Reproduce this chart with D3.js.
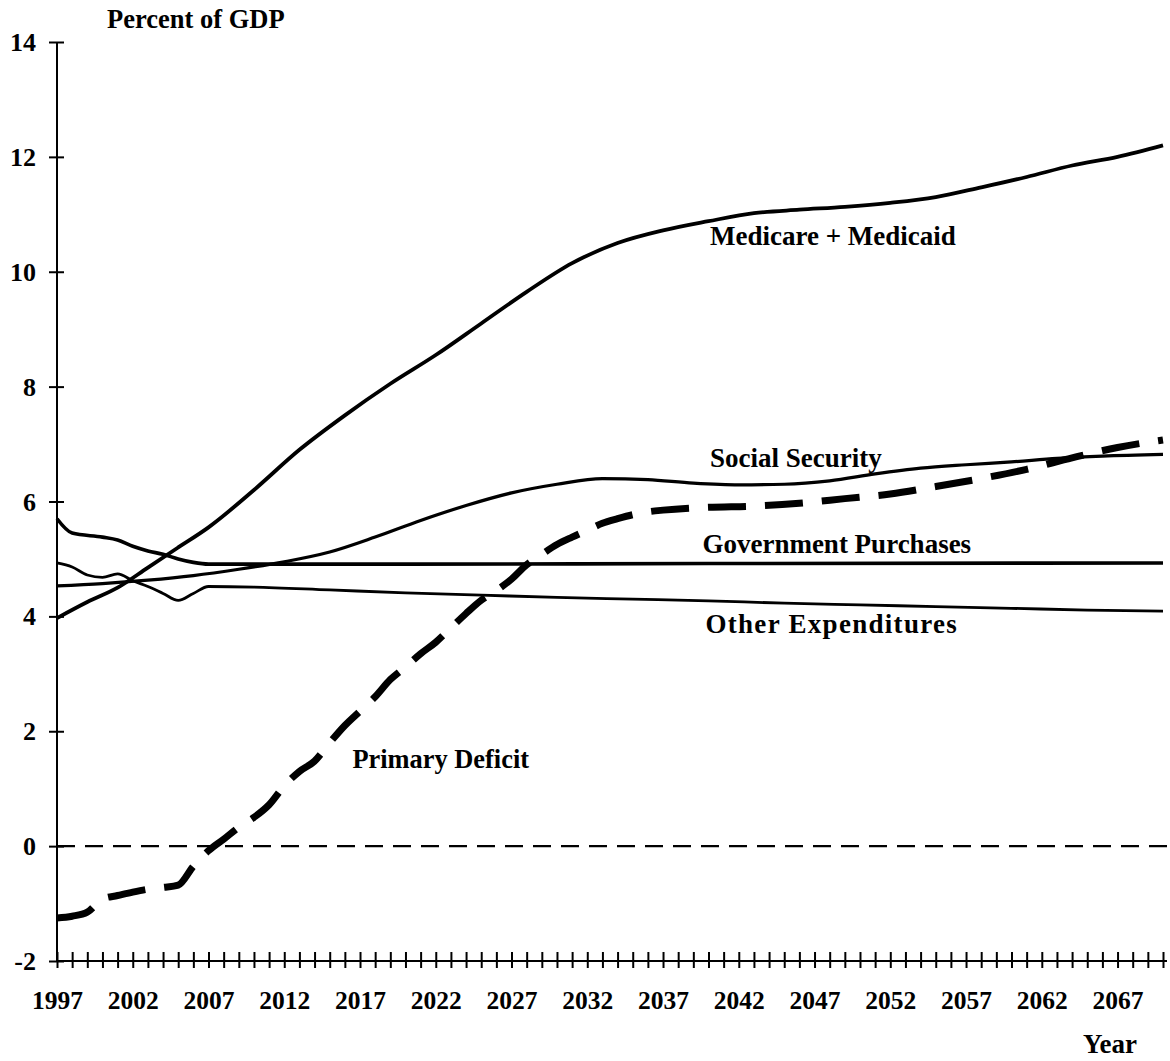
<!DOCTYPE html>
<html>
<head>
<meta charset="utf-8">
<script src="https://cdn.jsdelivr.net/npm/d3@7"></script>
<style>
  html, body { margin: 0; padding: 0; background: #fff; }
  text { font-family: "Liberation Serif", "Times New Roman", serif; font-weight: bold; fill: #000; }
</style>
</head>
<body>
<div id="chart"></div>
<script>
// Outlays and primary deficit, percent of GDP, 1997–2070

const MEDICARE = [
  [1997, 3.97], [1999, 4.25], [2001, 4.5], [2003, 4.85], [2005, 5.2], [2007, 5.55],
  [2010, 6.2], [2013, 6.9], [2016, 7.5], [2019, 8.05], [2022, 8.55], [2025, 9.1],
  [2028, 9.65], [2031, 10.15], [2034, 10.5], [2037, 10.72], [2040, 10.88], [2043, 11.02],
  [2046, 11.08], [2049, 11.13], [2052, 11.2], [2055, 11.3], [2058, 11.47], [2061, 11.65],
  [2064, 11.85], [2067, 12.0], [2070, 12.2]
];
const SOCIAL_SECURITY = [
  [1997, 4.53], [2000, 4.57], [2003, 4.63], [2006, 4.71], [2009, 4.82], [2012, 4.95],
  [2015, 5.12], [2018, 5.38], [2021, 5.67], [2024, 5.93], [2027, 6.15], [2030, 6.3],
  [2033, 6.4], [2036, 6.38], [2039, 6.32], [2042, 6.29], [2045, 6.3], [2048, 6.36],
  [2051, 6.48], [2054, 6.58], [2057, 6.64], [2060, 6.69], [2063, 6.75], [2066, 6.79], [2070, 6.82]
];
const GOV_PURCHASES = [
  [1997, 5.7], [1998, 5.45], [2000, 5.38], [2001, 5.33], [2002, 5.22], [2003, 5.14],
  [2004, 5.08], [2005, 5.0], [2006, 4.94], [2007, 4.91], [2010, 4.91], [2020, 4.91],
  [2040, 4.92], [2070, 4.93]
];
const OTHER_EXP = [
  [1997, 4.93], [1998, 4.86], [1999, 4.72], [2000, 4.68], [2001, 4.74], [2002, 4.62],
  [2003, 4.52], [2004, 4.4], [2005, 4.28], [2006, 4.4], [2007, 4.52], [2010, 4.51],
  [2015, 4.46], [2020, 4.41], [2025, 4.37], [2030, 4.33], [2035, 4.3], [2040, 4.27],
  [2045, 4.23], [2050, 4.2], [2055, 4.17], [2060, 4.14], [2065, 4.11], [2070, 4.09]
];
const PRIMARY_DEFICIT = [
  [1997, -1.25], [1998, -1.22], [1999, -1.15], [2000, -0.92], [2001, -0.86], [2002, -0.8],
  [2003, -0.75], [2004, -0.72], [2005, -0.68], [2006, -0.35], [2007, -0.08], [2008, 0.12],
  [2009, 0.33], [2010, 0.5], [2011, 0.72], [2012, 1.05], [2013, 1.3], [2014, 1.48],
  [2015, 1.8], [2016, 2.1], [2017, 2.35], [2018, 2.6], [2019, 2.9], [2020, 3.12],
  [2021, 3.35], [2022, 3.55], [2023, 3.8], [2024, 4.05], [2025, 4.28], [2026, 4.45],
  [2027, 4.65], [2028, 4.9], [2029, 5.08], [2030, 5.25], [2031, 5.38], [2032, 5.5],
  [2033, 5.62], [2034, 5.7], [2035, 5.77], [2036, 5.82], [2037, 5.85], [2040, 5.9],
  [2043, 5.92], [2046, 5.97], [2049, 6.05], [2052, 6.13], [2055, 6.26], [2058, 6.4],
  [2061, 6.56], [2064, 6.76], [2067, 6.94], [2070, 7.07]
];
const ZERO_LINE = [[1997, 0], [2070.4, 0]];

const Y_TICKS = [-2, 0, 2, 4, 6, 8, 10, 12, 14];
const X_LABELS = d3.range(1997, 2068, 5);
const X_TICKS = d3.range(1997, 2071, 1);

const LABELS = [
  { text: "Medicare + Medicaid", year: 2040.1, value: 10.47 },
  { text: "Social Security", year: 2040.1, value: 6.6 },
  { text: "Government Purchases", year: 2039.6, value: 5.1 },
  { text: "Other Expenditures", year: 2039.8, value: 3.71 },
  { text: "Primary Deficit", year: 2016.5, value: 1.36 }
];

/* ── Layout ── */
const totalW = 1170, totalH = 1061;
const x = d3.scaleLinear().domain([1997, 2070]).range([57, 1163]);
const y = d3.scaleLinear().domain([-2, 14]).range([961, 42]);
const FONT = "'Liberation Serif', 'Times New Roman', serif";

const svg = d3.select("#chart").append("svg")
  .attr("width", totalW).attr("height", totalH);

/* ── Axes ── */
const yAxis = svg.append("g").attr("transform", `translate(${x(1997)},0)`)
  .attr("font-family", FONT).attr("font-weight", "bold")
  .call(d3.axisLeft(y).tickValues(Y_TICKS).tickSize(8).tickPadding(13).tickFormat(d => String(d)));
yAxis.select(".domain").attr("stroke", "#000").attr("stroke-width", 2)
  .attr("d", `M0,${y(-2)}V${y(14)}`);
yAxis.selectAll(".tick line").attr("x1", 7).attr("x2", -8).attr("stroke", "#000").attr("stroke-width", 2);
yAxis.selectAll(".tick text").attr("font-size", 26).attr("dy", "0.33em")
  .style("font-family", FONT).style("font-weight", "bold");

const xAxis = svg.append("g").attr("transform", `translate(0,${y(-2)})`)
  .call(d3.axisBottom(x).tickValues(X_TICKS).tickFormat(""));
xAxis.select(".domain").attr("stroke", "#000").attr("stroke-width", 2.2)
  .attr("d", `M${x(1997)},0H${x(2070) + 4}`);
xAxis.selectAll(".tick line").attr("y1", -9).attr("y2", 7).attr("stroke", "#000").attr("stroke-width", 2);

const xLab = svg.append("g").attr("transform", `translate(0,${y(-2)})`)
  .attr("font-family", FONT).attr("font-weight", "bold")
  .call(d3.axisBottom(x).tickValues(X_LABELS).tickSize(0).tickPadding(30).tickFormat(d => String(d)));
xLab.select(".domain").remove();
xLab.selectAll(".tick text").attr("font-size", 25.5)
  .style("font-family", FONT).style("font-weight", "bold");

svg.append("text").attr("x", 107).attr("y", 28).attr("font-size", 26.5).text("Percent of GDP");
svg.append("text").attr("x", 1083).attr("y", 1053).attr("font-size", 27).text("Year");

/* ── Lines ── */
const line = d3.line().x(d => x(d[0])).y(d => y(d[1])).curve(d3.curveMonotoneX);

svg.append("path").datum(ZERO_LINE).attr("d", line)
  .attr("fill", "none").attr("stroke", "#000").attr("stroke-width", 2.2)
  .attr("stroke-dasharray", "18 10");

const series = [
  { data: GOV_PURCHASES, width: 3.6 },
  { data: OTHER_EXP, width: 2.8 },
  { data: SOCIAL_SECURITY, width: 3.2 },
  { data: MEDICARE, width: 3.8 }
];
series.forEach(s => {
  svg.append("path").datum(s.data).attr("d", line)
    .attr("fill", "none").attr("stroke", "#000")
    .attr("stroke-width", s.width).attr("stroke-linejoin", "round");
});

svg.append("path").datum(PRIMARY_DEFICIT).attr("d", line)
  .attr("fill", "none").attr("stroke", "#000").attr("stroke-width", 7)
  .attr("stroke-dasharray", "38 19");

/* ── Labels ── */
svg.selectAll("text.lbl").data(LABELS).join("text").attr("class", "lbl")
  .attr("x", d => x(d.year)).attr("y", d => y(d.value))
  .attr("font-size", d => d.text === "Primary Deficit" ? 26.4 : 27)
  .attr("letter-spacing", d => d.text === "Other Expenditures" ? 1.3 : 0)
  .text(d => d.text);
</script>
</body>
</html>
